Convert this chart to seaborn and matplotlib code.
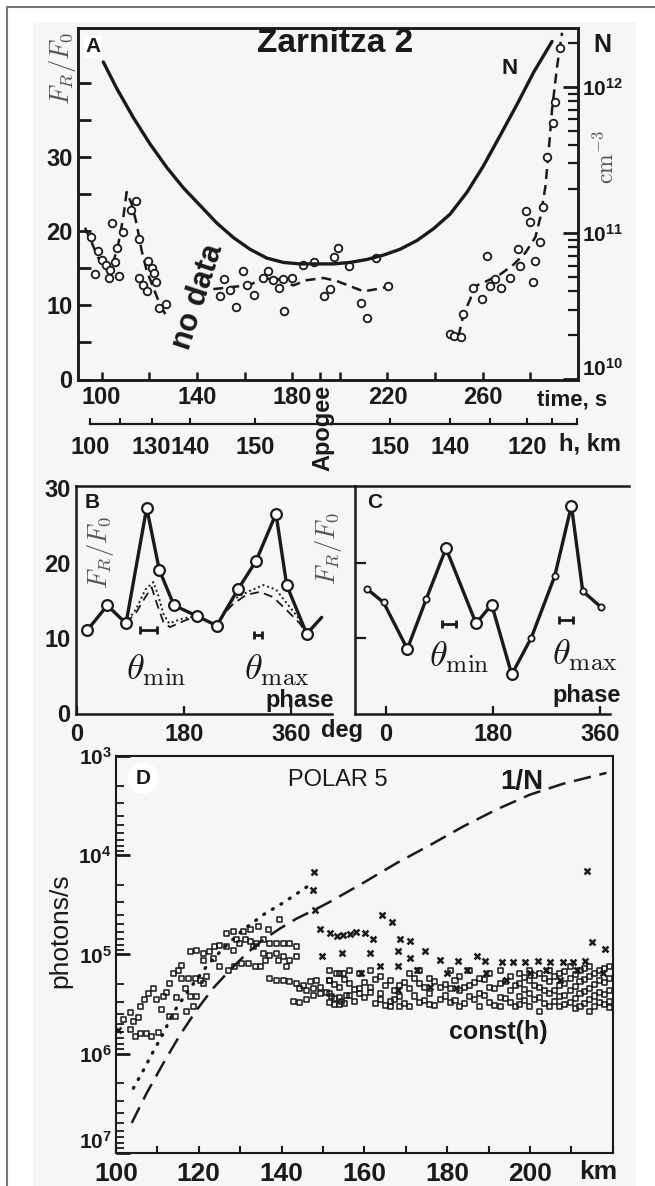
import numpy as np
import matplotlib
matplotlib.use("Agg")
import matplotlib.pyplot as plt
from matplotlib.lines import Line2D
from matplotlib.patches import Rectangle
from matplotlib.ticker import FixedLocator, LogLocator, FuncFormatter, NullFormatter
import seaborn as sns

# ---------------- panel A : Zarnitza 2 ----------------
# electron density N (log10 cm^-3) vs flight time, s
a_n_time = [100.7, 106.3, 113.3, 120.3, 127.3, 134.3, 141.3, 148.3, 155.3, 162.3,
            169.3, 176.3, 183.3, 190.3, 197.3, 204.3, 211.3, 218.3, 225.3, 232.4,
            239.3, 246.3, 253.4, 260.3, 267.4, 274.4, 281.4, 289.1]
a_n_log = [12.17, 11.99, 11.79, 11.61, 11.45, 11.31, 11.19, 11.07, 10.97, 10.89,
           10.83, 10.80, 10.79, 10.79, 10.79, 10.80, 10.82, 10.85, 10.89, 10.95,
           11.03, 11.13, 11.28, 11.46, 11.67, 11.88, 12.10, 12.31]

# dashed smoothing of F_R/F_0, three pieces
a_fit1_time = [93.0, 95.8, 98.6, 102.1, 103.5, 104.9, 107.0, 109.1, 110.5, 112.6,
               114.7, 116.8, 118.9, 121.7, 124.5, 127.3]
a_fit1_val = [20.5, 18.5, 16.4, 14.7, 14.2, 15.8, 18.3, 21.9, 25.3, 23.7,
              21.0, 17.4, 14.7, 12.4, 10.1, 8.5]
a_fit2_time = [146.9, 152.5, 158.1, 162.3, 167.9, 173.5, 180.5, 186.1, 193.1, 198.7,
               204.3, 209.9, 215.5, 222.5]
a_fit2_val = [12.2, 12.4, 12.6, 12.8, 13.6, 13.6, 12.7, 13.4, 13.7, 13.3,
              12.6, 11.9, 12.2, 12.7]
a_fit3_time = [249.8, 251.9, 254.7, 256.8, 261.8, 267.4, 272.9, 277.9, 282.1, 284.2,
               286.3, 287.7, 289.1, 291.2, 293.3]
a_fit3_val = [5.8, 8.8, 10.8, 12.6, 13.3, 14.2, 15.5, 17.1, 19.2, 21.9,
              26.0, 30.9, 36.4, 42.2, 46.8]

# measured F_R/F_0 points
a_pts_time = [95.4, 97.2, 98.3, 100.0, 101.7, 103.1, 103.5, 104.5, 105.6, 106.6,
              107.3, 108.8, 112.3, 114.4, 115.7, 115.7, 117.5, 119.2, 119.6, 121.0,
              122.0, 122.8, 124.2, 127.0,
              149.7, 151.4, 153.9, 156.4, 159.2, 160.9, 164.0, 167.6, 170.0, 172.1,
              174.6, 176.3, 176.7, 179.8, 184.7, 189.2, 193.4, 195.9, 197.6, 199.4,
              204.0, 208.8, 211.6, 215.3, 220.4,
              246.1, 248.0, 251.0, 251.9, 256.1, 259.7, 261.8, 263.2, 265.3, 267.8,
              271.3, 274.6, 275.8, 278.0, 280.0, 281.3, 282.1, 283.9, 285.3, 287.0,
              289.5, 290.5, 292.6]
a_pts_val = [19.2, 14.3, 17.3, 16.1, 15.5, 13.7, 14.8, 21.1, 15.9, 17.8,
             14.0, 19.9, 22.9, 24.1, 19.0, 13.7, 12.8, 12.0, 16.0, 15.1,
             14.4, 13.1, 9.7, 10.2,
             11.3, 13.5, 12.1, 9.8, 14.7, 12.8, 11.4, 13.7, 14.6, 13.4,
             12.3, 13.5, 9.2, 13.7, 15.5, 15.8, 11.3, 12.2, 16.6, 17.8,
             15.3, 10.3, 8.3, 16.4, 12.6,
             6.1, 5.9, 5.7, 8.8, 12.4, 10.8, 16.7, 12.6, 13.5, 12.4,
             13.7, 17.6, 15.3, 22.7, 21.2, 13.2, 16.0, 18.6, 23.3, 30.0,
             34.6, 37.5, 44.7]

time_ticks = [100, 120, 140, 160, 180, 191.8, 200, 220, 240, 260, 280]
time_labels = ["100", "", "140", "", "180", "", "", "220", "", "260", ""]
height_ticks = [95.1, 107.7, 121.0, 137.1, 164.4, 194.5, 221.1, 246.3, 263.2, 278.6, 289.1, 299.6]
height_labels = ["100", "", "130", "140", "150", "", "150", "140", "", "120", "", ""]

# ---------------- panel B ----------------
b_phase = [17.4, 51.0, 82.5, 117.3, 138.6, 163.3, 201.5, 235.2, 271.5, 301.3,
           335.0, 353.0, 386.7, 411.9]
b_val = [11.1, 14.4, 12.0, 27.4, 19.1, 14.4, 13.0, 11.7, 16.6, 20.3,
         26.6, 17.1, 10.6, 12.8]
b_dash_phase = [82.5, 100, 115, 125.7, 135, 145.3, 156.6, 176, 201.5, 235.2,
                250, 263, 285, 308, 330, 350, 375, 386.7]
b_dash_val = [12.0, 13.5, 15.5, 16.8, 14.5, 12.2, 11.5, 12.2, 13.0, 11.7,
              13.5, 14.6, 15.8, 16.2, 15.5, 14.0, 12.0, 10.6]
b_dot_phase = [82.5, 100, 115, 128.5, 136.9, 145.3, 155, 176, 201.5, 235.2,
               250, 263, 290, 313.6, 335, 352, 375, 386.7]
b_dot_val = [12.0, 14.0, 16.5, 17.5, 15.7, 13.3, 12.0, 12.6, 13.0, 11.7,
             13.8, 15.2, 16.3, 17.1, 16.5, 14.8, 12.5, 10.6]
b_theta_x = [120, 305]
b_theta_y = [11.1, 10.5]
b_theta_err = [14.6, 7.0]

# ---------------- panel C ----------------
c_phase = [-32.3, -4.2, 35.9, 67.5, 101.0, 151.5, 177.9, 211.6, 244.6, 284.0,
           312.1, 331.1, 361.4]
c_val = [16.6, 14.8, 8.6, 15.2, 22.0, 12.0, 14.5, 5.2, 10.1, 18.3,
         27.7, 16.3, 14.2]
c_big = [False, False, True, False, True, True, True, True, False, False,
         True, False, False]
c_theta_x = [106, 303]
c_theta_y = [11.9, 12.5]
c_theta_err = [12.0, 12.0]

# ---------------- panel D : POLAR 5 (log10 photons/s) ----------------
d_invn_km = [103.8, 107.4, 111.4, 115.5, 119.5, 123.5, 127.5, 131.6, 135.6, 139.6,
             143.6, 148.5, 151.7, 159.7, 167.8, 175.8, 183.9, 191.9, 200.0, 208.0, 218.5]
d_invn_exp = [6.70, 6.40, 6.10, 5.81, 5.56, 5.34, 5.16, 4.99, 4.85, 4.74,
              4.64, 4.54, 4.47, 4.28, 4.08, 3.90, 3.71, 3.54, 3.39, 3.28, 3.17]
d_dot_km = [104.2, 106.6, 109.0, 111.4, 113.8, 117.9, 121.9, 125.9, 130.8, 135.6, 140.4, 146.1]
d_dot_exp = [6.35, 6.17, 5.98, 5.80, 5.59, 5.34, 5.12, 4.94, 4.75, 4.60, 4.48, 4.32]

d_x_km = [100.6, 147.8, 147.5, 148.1, 149.3, 151.7, 149.7, 153.3, 154.9, 156.5,
          158.1, 160.1, 154.5, 162.1, 164.2, 166.6, 161.4, 168.6, 171.0, 168.2,
          174.6, 163.8, 168.2, 171.0, 178.3, 182.7, 187.1, 189.1, 193.2, 196.0,
          198.8, 202.0, 204.8, 208.0, 210.5, 213.3, 213.7, 214.9, 218.2, 159.3,
          172.6, 179.9, 184.7, 168.2, 175.8, 182.2, 189.5, 194.3, 200.0, 204.0,
          207.2, 211.3, 217.7]
d_x_exp = [5.76, 4.17, 4.35, 4.55, 4.74, 4.78, 5.02, 4.82, 4.80, 4.79,
           4.77, 4.78, 4.99, 4.85, 4.60, 4.67, 4.99, 4.85, 4.87, 4.97,
           4.97, 5.12, 5.12, 5.04, 5.06, 5.07, 5.02, 5.07, 5.08, 5.08,
           5.08, 5.07, 5.08, 5.08, 5.08, 5.07, 4.16, 4.88, 4.95, 5.19,
           5.16, 5.19, 5.16, 5.36, 5.33, 5.34, 5.19, 5.26, 5.19, 5.16,
           5.26, 5.16, 5.19]

d_sq_km = [101.8, 103.4, 104.2, 105.4, 103.4, 104.6, 105.8, 107.4, 108.6, 110.2,
           105.8, 107.0, 107.8, 109.0, 109.8, 111.0, 111.4, 112.2, 113.0, 113.8,
           115.1, 115.9, 113.0, 114.3, 114.7, 116.7, 115.9, 117.5, 119.1, 120.3,
           117.1, 118.7, 119.5, 117.9, 121.1, 121.9, 117.9, 119.5, 121.1, 122.7,
           123.9, 125.1, 126.7, 128.3, 129.1, 129.9, 131.2, 132.4, 133.2, 134.0,
           135.6, 137.2, 138.8, 140.4, 142.0, 143.6, 143.6, 142.0, 140.4, 138.8,
           137.2, 135.6, 121.1, 123.5, 125.1, 127.1, 128.7, 130.4, 132.0, 133.6,
           134.8, 136.0, 139.2, 141.2, 126.7, 128.3, 130.8, 132.4, 134.4, 136.8,
           139.6, 137.2, 138.8, 140.4, 142.0, 143.6, 145.2, 146.9, 148.5, 144.4,
           146.1, 147.7, 149.3, 142.8, 144.4, 146.1, 147.7, 149.3, 150.9, 152.1,
           152.9, 154.5, 155.7, 151.7, 153.3, 154.9,
           151.7, 151.7, 151.7, 151.7, 154.1, 154.1, 154.1, 154.1, 156.5, 156.5,
           156.5, 158.9, 158.9, 158.9, 161.4, 161.4, 161.4, 163.8, 163.8, 163.8,
           166.2, 166.2, 166.2, 168.6, 168.6, 168.6, 171.0, 171.0, 171.0, 173.4,
           173.4, 173.4, 175.8, 175.8, 175.8, 178.3, 178.3, 180.7, 180.7, 180.7,
           183.1, 183.1, 183.1, 185.5, 185.5, 185.5, 187.9, 187.9, 187.9, 190.3,
           190.3, 190.3, 192.8, 192.8, 192.8, 192.8, 195.2, 195.2, 195.2, 197.6,
           197.6, 197.6, 197.6, 200.0, 200.0, 200.0, 200.0, 202.4, 202.4, 202.4,
           202.4, 204.8, 204.8, 204.8, 204.8, 207.2, 207.2, 207.2, 207.2, 209.7,
           209.7, 209.7, 209.7, 212.1, 212.1, 212.1, 212.1, 214.5, 214.5, 214.5,
           214.5, 214.5, 216.9, 216.9, 216.9, 216.9, 219.3, 219.3, 219.3, 219.3,
           219.3, 206.0, 206.0, 206.0, 208.4, 208.4, 208.4, 208.4, 210.9, 210.9,
           210.9, 210.9, 213.3, 213.3, 213.3, 213.3, 215.7, 215.7, 215.7, 215.7,
           218.1, 218.1, 218.1, 218.1, 198.8, 198.8, 198.8, 201.2, 201.2, 201.2,
           203.6, 203.6, 203.6,
           152.9, 152.9, 155.3, 155.3, 157.7, 157.7, 160.1, 160.1, 162.6, 162.6,
           165.0, 165.0, 167.4, 167.4, 169.8, 169.8, 172.2, 172.2, 174.6, 174.6,
           177.0, 177.0, 179.5, 179.5, 181.9, 181.9, 184.3, 184.3, 186.7, 186.7,
           189.1, 189.1, 191.5, 191.5, 194.0, 194.0, 196.4, 196.4]
d_sq_exp = [5.66, 5.59, 5.68, 5.64, 5.76, 5.83, 5.80, 5.80, 5.83, 5.79,
            5.53, 5.46, 5.39, 5.34, 5.46, 5.56, 5.43, 5.38, 5.29, 5.19,
            5.16, 5.11, 5.63, 5.63, 5.44, 5.34, 5.24, 5.24, 5.24, 5.26,
            5.58, 5.53, 5.43, 5.43, 5.29, 5.22, 4.97, 4.96, 4.99, 4.97,
            4.92, 4.91, 4.92, 4.96, 4.85, 4.89, 4.85, 4.87, 4.92, 4.89,
            4.85, 4.89, 4.89, 4.89, 4.89, 4.92, 5.02, 5.06, 5.02, 4.99,
            5.01, 4.99, 5.06, 5.04, 5.12, 5.16, 5.12, 5.09, 5.09, 5.12,
            5.12, 5.06, 5.06, 5.12, 4.79, 4.77, 4.77, 4.75, 4.72, 4.75,
            4.65, 5.24, 5.26, 5.26, 5.27, 5.29, 5.31, 5.27, 5.26, 5.34,
            5.36, 5.34, 5.33, 5.48, 5.49, 5.46, 5.41, 5.39, 5.38, 5.43,
            5.51, 5.48, 5.41, 5.26, 5.19, 5.19,
            5.16, 5.26, 5.39, 5.49, 5.19, 5.33, 5.44, 5.51, 5.16, 5.29,
            5.41, 5.19, 5.34, 5.39, 5.16, 5.33, 5.38, 5.22, 5.39, 5.46,
            5.26, 5.48, 5.53, 5.31, 5.43, 5.53, 5.19, 5.34, 5.53, 5.16,
            5.29, 5.49, 5.24, 5.39, 5.51, 5.33, 5.46, 5.16, 5.34, 5.49,
            5.22, 5.36, 5.53, 5.16, 5.31, 5.43, 5.24, 5.39, 5.53, 5.19,
            5.33, 5.49, 5.16, 5.29, 5.44, 5.53, 5.22, 5.36, 5.49, 5.19,
            5.29, 5.43, 5.51, 5.16, 5.26, 5.39, 5.53, 5.19, 5.33, 5.44,
            5.58, 5.16, 5.27, 5.39, 5.53, 5.19, 5.31, 5.43, 5.53, 5.12,
            5.24, 5.36, 5.49, 5.16, 5.27, 5.39, 5.53, 5.12, 5.22, 5.34,
            5.46, 5.58, 5.16, 5.26, 5.38, 5.49, 5.12, 5.24, 5.36, 5.48,
            5.54, 5.22, 5.36, 5.48, 5.17, 5.29, 5.41, 5.51, 5.20, 5.32,
            5.45, 5.55, 5.14, 5.25, 5.37, 5.50, 5.19, 5.30, 5.42, 5.53,
            5.14, 5.28, 5.40, 5.51, 5.23, 5.35, 5.47, 5.21, 5.31, 5.46,
            5.24, 5.36, 5.50,
            5.30, 5.45, 5.25, 5.50, 5.35, 5.48, 5.28, 5.44, 5.25, 5.50,
            5.31, 5.52, 5.36, 5.46, 5.28, 5.50, 5.24, 5.42, 5.33, 5.47,
            5.27, 5.52, 5.30, 5.42, 5.26, 5.47, 5.33, 5.50, 5.28, 5.46,
            5.25, 5.41, 5.34, 5.52, 5.27, 5.45, 5.31, 5.53]

# ---------------- figure setup ----------------
W, H = 655, 1186
sns.set_theme(style="ticks", rc={"axes.linewidth": 1.8, "xtick.color": "k",
                                 "ytick.color": "k", "axes.edgecolor": "k",
                                 "text.color": "k", "axes.labelcolor": "k"})
plt.rcParams["font.family"] = ["Liberation Sans", "DejaVu Sans"]
plt.rcParams["mathtext.fontset"] = "custom"
plt.rcParams["mathtext.rm"] = "Liberation Sans"
plt.rcParams["mathtext.it"] = "Liberation Sans:italic"
plt.rcParams["mathtext.bf"] = "Liberation Sans:bold"


def fx(px):
    return px / W


def fy(py):
    return 1 - py / H


def box(left, top, right, bottom):
    return [fx(left), fy(bottom), (right - left) / W, (bottom - top) / H]


def bold_ticks(ax, size):
    for lbl in ax.get_xticklabels() + ax.get_yticklabels():
        lbl.set_fontweight("bold")
        lbl.set_fontsize(size)


def pow_label(v, pos):
    return r"$\mathbf{10^{%d}}$" % int(round(np.log10(v)))


fig = plt.figure(figsize=(W / 100, H / 100), dpi=100)
fig.patch.set_facecolor("white")
fig.patches.append(Rectangle((fx(33), 0), fx(636) - fx(33), fy(22), transform=fig.transFigure,
                             facecolor="#f6f6f6", edgecolor="none", zorder=-5))
fig.add_artist(Line2D([fx(7), fx(7)], [fy(7), 0], color="#777", lw=1.5))
fig.add_artist(Line2D([fx(7), 1], [fy(7), fy(7)], color="#777", lw=1.5))

# ---------------- A ----------------
axA = fig.add_axes(box(78.3, 28.3, 578, 379.5))
axA.set_facecolor("none")
axA.set_xlim(90.2, 300)
axA.set_ylim(0, 47.4)
dash_a = (0, (4, 2.4))
for tt, vv in [(a_fit1_time, a_fit1_val), (a_fit2_time, a_fit2_val), (a_fit3_time, a_fit3_val)]:
    sns.lineplot(x=tt, y=vv, ax=axA, color="k", lw=1.8, linestyle=dash_a, estimator=None)
sns.scatterplot(x=a_pts_time, y=a_pts_val, ax=axA, marker="o", s=30, facecolor="white",
                edgecolor="k", linewidth=1.3, zorder=4)
axA.xaxis.set_major_locator(FixedLocator(time_ticks))
axA.set_xticklabels(time_labels)
axA.set_yticks(np.arange(0, 45, 5))
axA.set_yticklabels(["0", "", "10", "", "20", "", "30", "", ""])
axA.tick_params(axis="x", direction="in", length=6, width=1.8, pad=5, top=False)
axA.tick_params(axis="y", direction="in", length=9, width=2, pad=4, right=False)
axA.set_xlabel("")
axA.set_ylabel("")
bold_ticks(axA, 17)

axN = axA.twinx()
axN.set_facecolor("none")
axN.set_yscale("log")
axN.set_ylim(1e10, 10 ** 12.40)
sns.lineplot(x=a_n_time, y=10 ** np.array(a_n_log), ax=axN, color="k", lw=2.4, estimator=None)
axN.yaxis.set_major_locator(FixedLocator([1e10, 1e11, 1e12]))
axN.yaxis.set_major_formatter(FuncFormatter(pow_label))
axN.yaxis.set_minor_locator(LogLocator(base=10, subs=np.arange(2, 10)))
axN.yaxis.set_minor_formatter(NullFormatter())
axN.tick_params(axis="y", which="major", direction="in", length=11, width=2, labelsize=15, pad=3)
axN.tick_params(axis="y", which="minor", direction="in", length=7, width=1.6)
axN.set_ylabel("")
for s in axN.spines.values():
    s.set_linewidth(1.8)
axN.get_yticklabels()[0].set_verticalalignment("bottom")

# altitude scale below
axH = fig.add_axes(box(78.3, 423.9, 578, 424))
axH.set_facecolor("none")
axH.set_xlim(90.2, 300)
for side in ["left", "right", "top"]:
    axH.spines[side].set_visible(False)
axH.spines["bottom"].set_bounds(95.1, 299.6)
axH.spines["bottom"].set_linewidth(1.6)
axH.set_yticks([])
axH.xaxis.set_major_locator(FixedLocator(height_ticks))
axH.set_xticklabels(height_labels)
axH.tick_params(axis="x", direction="in", length=4, width=1.5, pad=9)
bold_ticks(axH, 17)

fig.text(fx(335), fy(43), "Zarnitza 2", ha="center", va="center", fontsize=24, weight="bold")
fig.text(fx(93), fy(47), "A", ha="center", va="center", fontsize=15, weight="bold",
         bbox=dict(facecolor="white", edgecolor="none", pad=1))
fig.text(fx(62), fy(68), r"$F_R/F_0$", rotation=90, ha="center", va="center", fontsize=19,
         color="#555", math_fontfamily="cm")
fig.text(fx(198), fy(297), "no data", rotation=72, ha="center", va="center", fontsize=22,
         weight="bold")
fig.text(fx(510), fy(68), "N", ha="center", va="center", fontsize=16, weight="bold")
fig.text(fx(602), fy(45), "N", ha="center", va="center", fontsize=18, weight="bold")
fig.text(fx(606), fy(157), r"$\mathrm{cm}^{-3}$", rotation=90, ha="center", va="center",
         fontsize=17, color="#555", math_fontfamily="cm")
fig.text(fx(572), fy(400), "time, s", ha="center", va="center", fontsize=16, weight="bold")
fig.text(fx(323), fy(428), "Apogee", rotation=90, ha="center", va="center", fontsize=17,
         weight="bold")
fig.text(fx(590), fy(444), "h, km", ha="center", va="center", fontsize=17, weight="bold")

# ---------------- B ----------------
axB = fig.add_axes(box(76, 486, 355, 713.5))
axB.set_facecolor("none")
axB.set_xlim(-1.7, 468)
axB.set_ylim(0, 30.3)
axB.spines["right"].set_visible(False)
axB.spines["bottom"].set_bounds(-1.7, 429)
sns.lineplot(x=b_dash_phase, y=b_dash_val, ax=axB, color="k", lw=1.3,
             linestyle=(0, (5, 3)), estimator=None)
sns.lineplot(x=b_dot_phase, y=b_dot_val, ax=axB, color="k", lw=1.4,
             linestyle=(0, (1, 1.5)), estimator=None)
sns.lineplot(x=b_phase, y=b_val, ax=axB, color="k", lw=2.4, estimator=None)
sns.scatterplot(x=b_phase[:-1], y=b_val[:-1], ax=axB, marker="o", s=60, facecolor="white",
                edgecolor="k", linewidth=1.6, zorder=4)
axB.errorbar(b_theta_x, b_theta_y, xerr=b_theta_err, fmt="none", ecolor="k", elinewidth=2,
             capsize=3, capthick=2)
axB.set_xticks([0, 180, 360])
axB.set_yticks([0, 10, 20, 30])
axB.tick_params(axis="x", direction="in", length=6, width=1.6, pad=7, top=False)
axB.tick_params(axis="y", length=0, pad=4)
axB.set_xlabel("")
axB.set_ylabel("")
bold_ticks(axB, 17)
axB.text(134, 5.7, r"$\theta_{\rm min}$", ha="center", va="center", fontsize=26,
         math_fontfamily="cm")
axB.text(336, 5.7, r"$\theta_{\rm max}$", ha="center", va="center", fontsize=26,
         math_fontfamily="cm")
axB.text(375, 1.7, "phase", ha="center", va="center", fontsize=17, weight="bold")
fig.text(fx(92), fy(502), "B", ha="center", va="center", fontsize=15, weight="bold")
fig.text(fx(100), fy(552), r"$F_R/F_0$", rotation=90, ha="center", va="center", fontsize=19,
         color="#555", math_fontfamily="cm")
fig.text(fx(342), fy(730), "deg", ha="center", va="center", fontsize=17, weight="bold")

# ---------------- C ----------------
axC = fig.add_axes(box(355, 486, 629, 713.5))
axC.set_facecolor("none")
axC.set_xlim(-52.2, 409)
axC.set_ylim(0, 30.3)
axC.spines["right"].set_visible(False)
axC.spines["bottom"].set_bounds(-52.2, 377)
sns.lineplot(x=c_phase, y=c_val, ax=axC, color="k", lw=2.4, estimator=None)
big = np.array(c_big)
cp = np.array(c_phase)
cv = np.array(c_val)
sns.scatterplot(x=cp[big], y=cv[big], ax=axC, marker="o", s=60, facecolor="white",
                edgecolor="k", linewidth=1.6, zorder=4)
sns.scatterplot(x=cp[~big], y=cv[~big], ax=axC, marker="o", s=20, facecolor="white",
                edgecolor="k", linewidth=1.3, zorder=4)
axC.errorbar(c_theta_x, c_theta_y, xerr=c_theta_err, fmt="none", ecolor="k", elinewidth=2,
             capsize=3, capthick=2)
axC.set_xticks([0, 180, 360])
axC.set_yticks([10, 20])
axC.set_yticklabels([])
axC.tick_params(axis="x", direction="in", length=6, width=1.6, pad=7, top=False)
axC.tick_params(axis="y", direction="in", length=8, width=1.6)
axC.set_xlabel("")
axC.set_ylabel("")
bold_ticks(axC, 17)
axC.text(124, 7.5, r"$\theta_{\rm min}$", ha="center", va="center", fontsize=26,
         math_fontfamily="cm")
axC.text(335, 7.7, r"$\theta_{\rm max}$", ha="center", va="center", fontsize=26,
         math_fontfamily="cm")
axC.text(338, 2.4, "phase", ha="center", va="center", fontsize=17, weight="bold")
fig.text(fx(375), fy(503), "C", ha="center", va="center", fontsize=15, weight="bold")
fig.text(fx(328), fy(548), r"$F_R/F_0$", rotation=90, ha="center", va="center", fontsize=19,
         color="#555", math_fontfamily="cm")

# ---------------- D ----------------
axD = fig.add_axes(box(116, 756, 612.7, 1152.7))
axD.set_facecolor("none")
axD.set_yscale("log")
axD.set_xlim(100, 220)
axD.set_ylim(1e7, 1e3)
sns.scatterplot(x=d_sq_km, y=10 ** np.array(d_sq_exp), ax=axD, marker="s", s=13,
                facecolor="none", edgecolor="k", linewidth=1.1)
sns.scatterplot(x=d_x_km, y=10 ** np.array(d_x_exp), ax=axD, marker="x", s=18,
                color="k", linewidth=1.8)
sns.lineplot(x=d_invn_km, y=10 ** np.array(d_invn_exp), ax=axD, color="k", lw=1.8,
             linestyle=(0, (7, 3.5)), estimator=None)
sns.lineplot(x=d_dot_km, y=10 ** np.array(d_dot_exp), ax=axD, color="k", lw=2.4,
             linestyle=(0, (0.3, 2.7)), dash_capstyle="round", estimator=None)
axD.set_xticks(np.arange(100, 221, 10))
axD.set_xticklabels(["100", "", "120", "", "140", "", "160", "", "180", "", "200", "", ""])
axD.yaxis.set_major_locator(FixedLocator([1e3, 1e4, 1e5, 1e6, 1e7]))
axD.yaxis.set_major_formatter(FuncFormatter(pow_label))
axD.yaxis.set_minor_locator(LogLocator(base=10, subs=np.arange(2, 10)))
axD.yaxis.set_minor_formatter(NullFormatter())
axD.tick_params(axis="x", direction="in", length=5, width=1.5, pad=7, top=False)
axD.tick_params(axis="y", which="major", direction="in", length=10, width=2, pad=3, right=False)
axD.tick_params(axis="y", which="minor", direction="in", length=6, width=1.3, right=False)
axD.set_xlabel("")
axD.set_ylabel("")
for lbl in axD.get_xticklabels():
    lbl.set_fontweight("bold")
    lbl.set_fontsize(19)
for lbl in axD.get_yticklabels():
    lbl.set_fontsize(15)
axD.get_yticklabels()[-1].set_verticalalignment("bottom")
for s in axD.spines.values():
    s.set_linewidth(1.5)
fig.text(fx(598), fy(1172), "km", ha="center", va="center", fontsize=19, weight="bold")
fig.text(fx(60), fy(931), "photons/s", rotation=90, ha="center", va="center", fontsize=19)
fig.text(fx(143), fy(778), "D", ha="center", va="center", fontsize=15, weight="bold",
         bbox=dict(boxstyle="circle,pad=0.3", facecolor="white", edgecolor="none"))
fig.text(fx(338), fy(780), "POLAR 5", ha="center", va="center", fontsize=17)
fig.text(fx(522), fy(782), "1/N", ha="center", va="center", fontsize=20, weight="bold")
fig.text(fx(498), fy(1032), "const(h)", ha="center", va="center", fontsize=18, weight="bold")

fig.savefig("out.png", dpi=100)
